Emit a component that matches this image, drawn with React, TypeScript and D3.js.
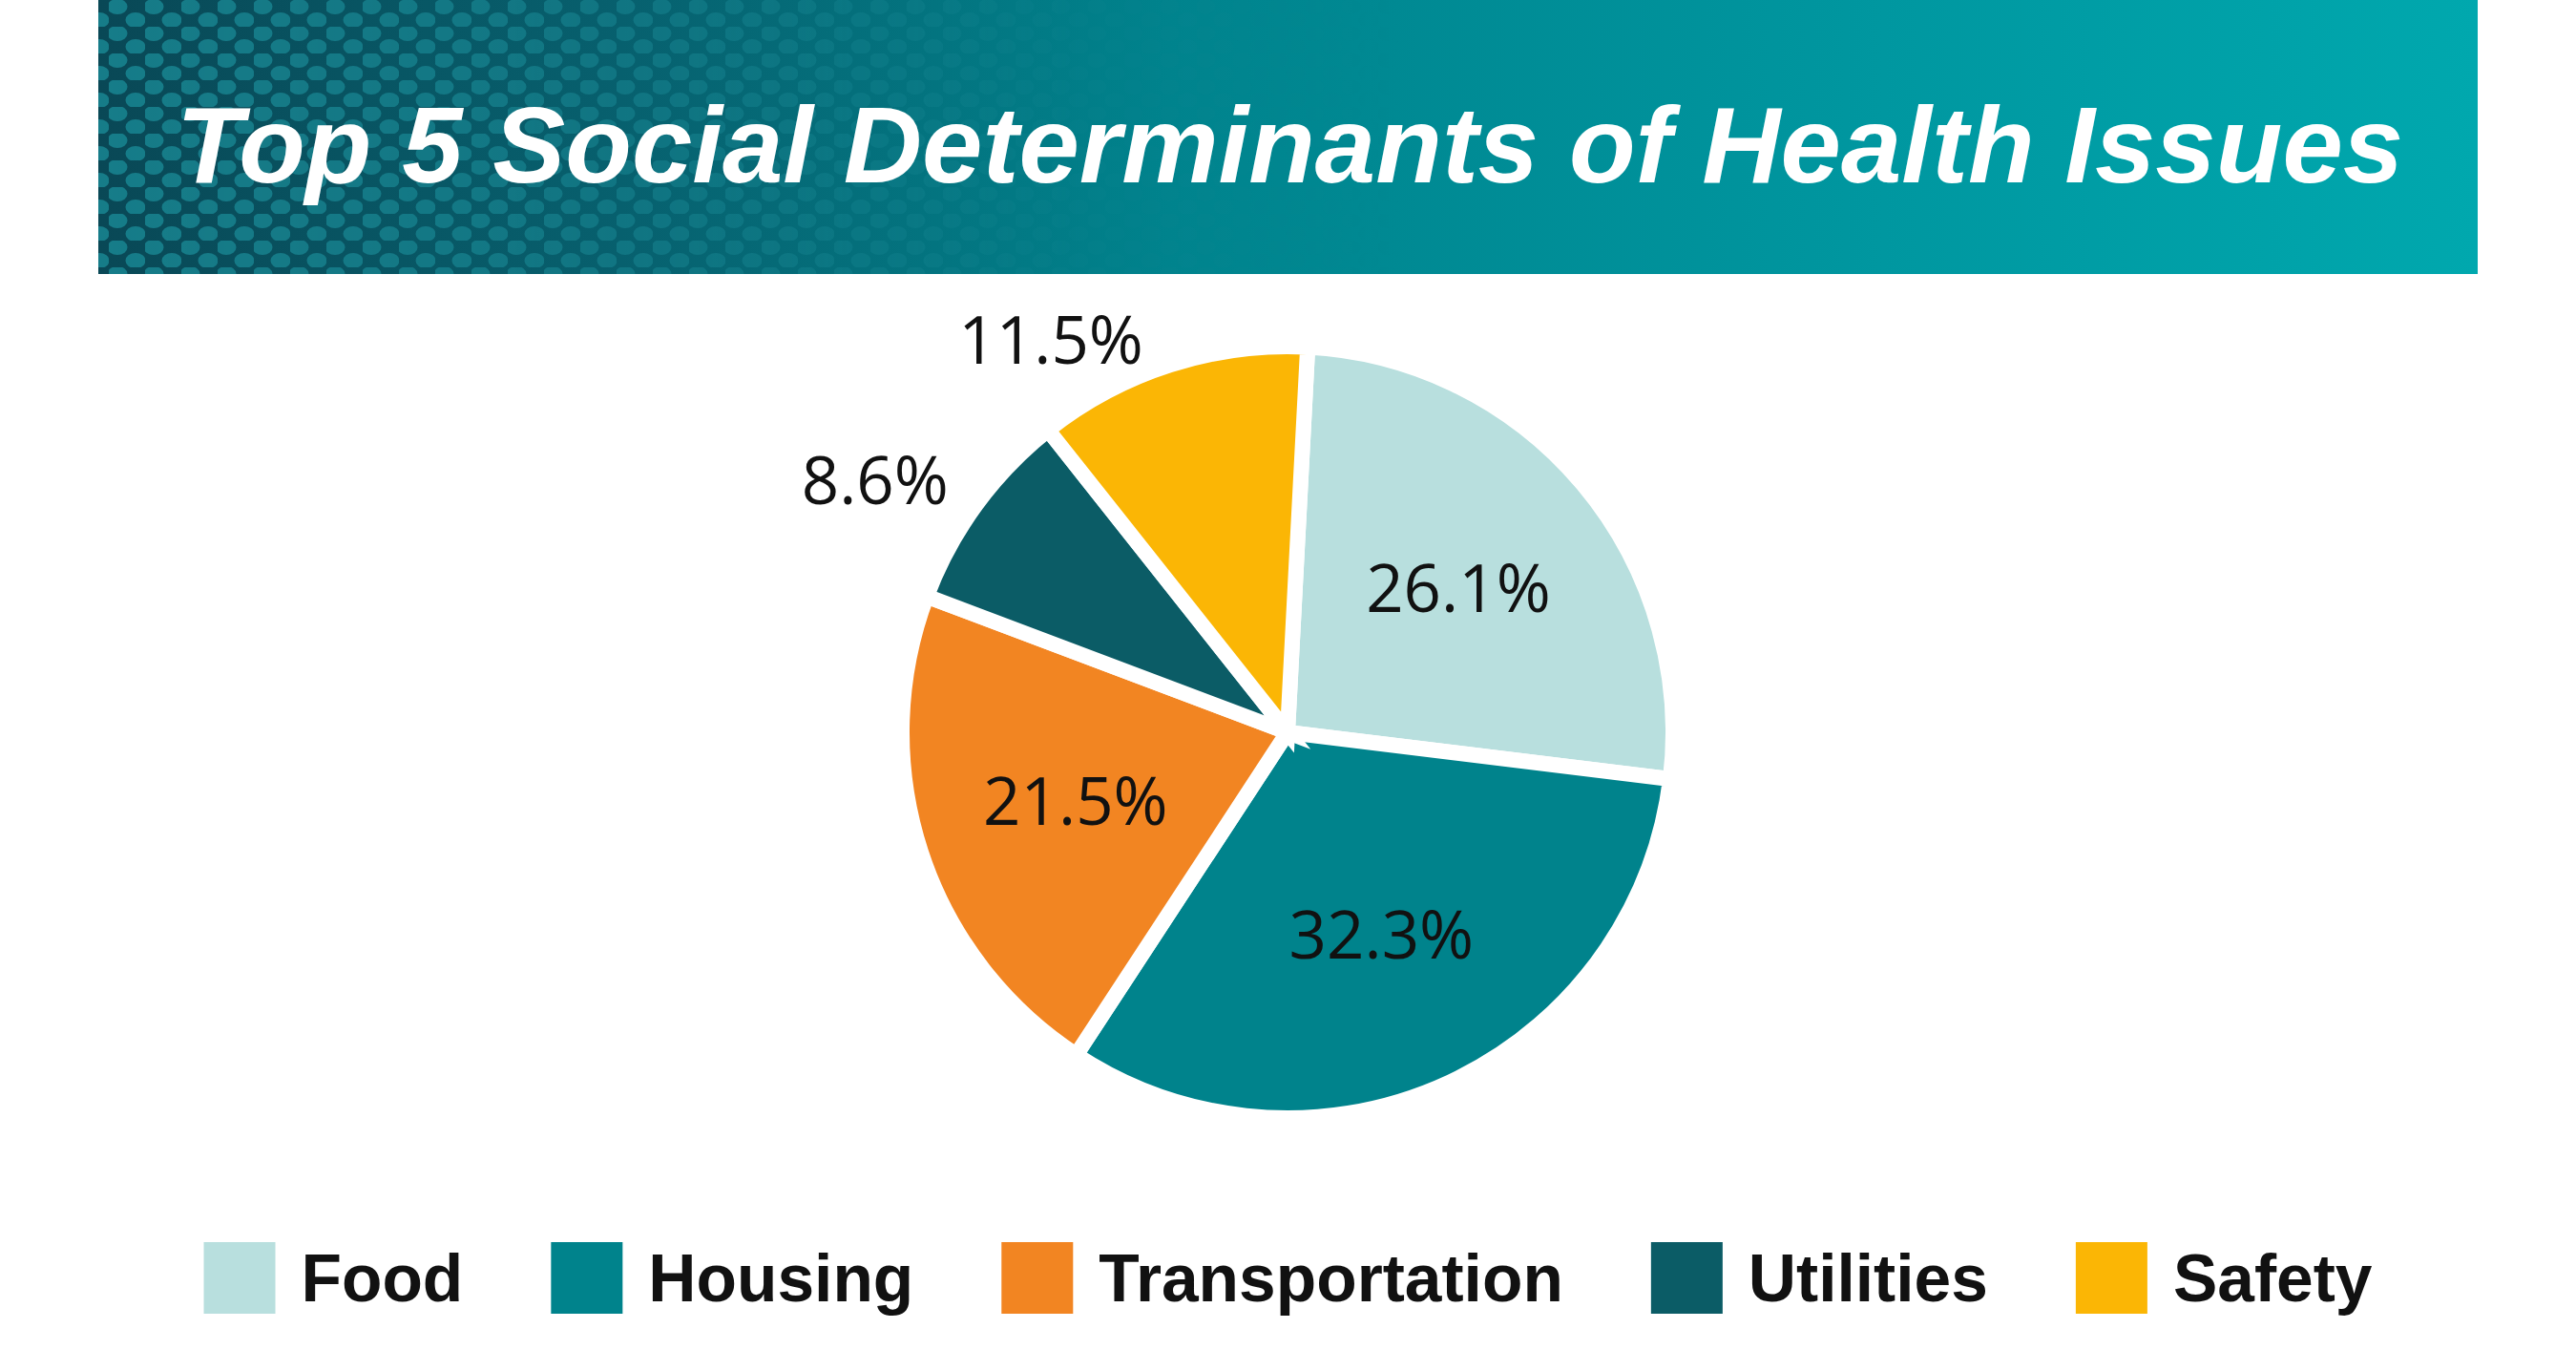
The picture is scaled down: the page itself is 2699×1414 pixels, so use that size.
import React, { useEffect, useRef } from "react";
import * as d3 from "d3";

const title = "Top 5 Social Determinants of Health Issues";
const categories = ["Food", "Housing", "Transportation", "Utilities", "Safety"];
const values = [26.1, 32.3, 21.5, 8.6, 11.5];
const colors = ["#b8dfde", "#00838c", "#f28522", "#0b5c66", "#fbb605"];

const W = 2699;
const H = 1414;

export default function App() {
  const ref = useRef<SVGSVGElement | null>(null);

  useEffect(() => {
    document.body.style.margin = "0";
    document.body.style.overflow = "hidden";
    const svg = d3.select(ref.current);
    svg.selectAll("*").remove();

    const defs = svg.append("defs");
    const g1 = defs.append("linearGradient").attr("id", "bannerGrad").attr("x1", "0").attr("x2", "1").attr("y1", "0").attr("y2", "0");
    [
      ["0%", "#094856"],
      ["22%", "#07606e"],
      ["45%", "#00838d"],
      ["75%", "#0097a0"],
      ["100%", "#00a8ae"],
    ].forEach(([o, c]) => g1.append("stop").attr("offset", o).attr("stop-color", c));

    const pat = defs.append("pattern").attr("id", "dots").attr("patternUnits", "userSpaceOnUse")
      .attr("width", 38).attr("height", 28);
    pat.append("ellipse").attr("cx", 9).attr("cy", 7).attr("rx", 10.5).attr("ry", 8).attr("fill", "#1a8a96");
    pat.append("ellipse").attr("cx", 28).attr("cy", 21).attr("rx", 10.5).attr("ry", 8).attr("fill", "#1a8a96");

    const mg = defs.append("linearGradient").attr("id", "dotFade").attr("x1", "0").attr("x2", "1").attr("y1", "0").attr("y2", "0");
    [
      ["0%", 0.8],
      ["15%", 0.65],
      ["30%", 0.35],
      ["42%", 0.1],
      ["55%", 0],
      ["100%", 0],
    ].forEach(([o, a]) => mg.append("stop").attr("offset", o as string).attr("stop-color", "#fff").attr("stop-opacity", a as number));
    const mask = defs.append("mask").attr("id", "dotMask");
    mask.append("rect").attr("x", 103).attr("y", 0).attr("width", 2493).attr("height", 287).attr("fill", "url(#dotFade)");

    const bx = 103, bw = 2493, bh = 287;
    svg.append("rect").attr("x", bx).attr("y", 0).attr("width", bw).attr("height", bh).attr("fill", "url(#bannerGrad)");
    svg.append("rect").attr("x", bx).attr("y", 0).attr("width", bw).attr("height", bh).attr("fill", "url(#dots)").attr("mask", "url(#dotMask)");

    svg.append("text")
      .attr("x", W / 2 + 2)
      .attr("y", 191)
      .attr("text-anchor", "middle")
      .attr("font-family", "'Liberation Sans', Arial, sans-serif")
      .attr("font-weight", "bold")
      .attr("font-style", "italic")
      .attr("font-size", 114)
      .attr("fill", "#ffffff")
      .text(title);

    const cx = 1349, cy = 767;
    const R = 404;
    const stroke = 16;
    const visR = R - stroke / 2;
    const start = (3 * Math.PI) / 180;
    const pie = d3.pie<number>().value((d) => d).sort(null).startAngle(start).endAngle(start + 2 * Math.PI);
    const arcs = pie(values);
    const arc = d3.arc<d3.PieArcDatum<number>>().innerRadius(0).outerRadius(R);
    const gp = svg.append("g").attr("transform", `translate(${cx},${cy})`);
    gp.selectAll("path").data(arcs).join("path")
      .attr("d", arc as any)
      .attr("fill", (_d, i) => colors[i])
      .attr("stroke", "#ffffff")
      .attr("stroke-width", stroke)
      .attr("stroke-linejoin", "miter");

    const fs = 69;
    const inner = d3.arc<d3.PieArcDatum<number>>().innerRadius(visR * 0.59).outerRadius(visR * 0.59);
    arcs.forEach((a, i) => {
      const label = `${values[i]}%`;
      const t = gp.append("text")
        .attr("font-family", "'Open Sans', 'Noto Sans', sans-serif")
        .attr("font-size", fs)
        .attr("fill", "#111111")
        .text(label);
      if (values[i] >= 15) {
        const [x, y] = inner.centroid(a);
        t.attr("x", x).attr("y", y + fs * 0.357).attr("text-anchor", "middle");
      } else {
        const mid = (a.startAngle + a.endAngle) / 2;
        const r = visR + 9;
        const x = Math.sin(mid) * r;
        const y = -Math.cos(mid) * r;
        const left = x < 0;
        const up = y < 0;
        t.attr("x", left ? x - 28 : x + 28)
          .attr("y", up ? y : y + fs * 0.714)
          .attr("text-anchor", left ? "end" : "start");
      }
    });

    const sq = 75, gapText = 27, gapItem = 92;
    const lg = svg.append("g");
    const items = categories.map((c, i) => {
      const g = lg.append("g");
      g.append("rect").attr("width", sq).attr("height", sq).attr("y", 1301).attr("fill", colors[i]);
      const t = g.append("text")
        .attr("x", sq + gapText)
        .attr("y", 1363)
        .attr("font-family", "'Liberation Sans', Arial, sans-serif")
        .attr("font-weight", "bold")
        .attr("font-size", 69.5)
        .attr("fill", "#111111")
        .text(c);
      const w = (t.node() as SVGTextElement).getComputedTextLength();
      return { g, w: sq + gapText + w };
    });
    const total = d3.sum(items, (d) => d.w) + gapItem * (items.length - 1);
    let x0 = W / 2 - total / 2;
    items.forEach((it) => {
      it.g.attr("transform", `translate(${x0},0)`);
      x0 += it.w + gapItem;
    });
  }, []);

  return (
    <svg ref={ref} width={W} height={H} viewBox={`0 0 ${W} ${H}`} style={{ display: "block", background: "#ffffff" }} />
  );
}
